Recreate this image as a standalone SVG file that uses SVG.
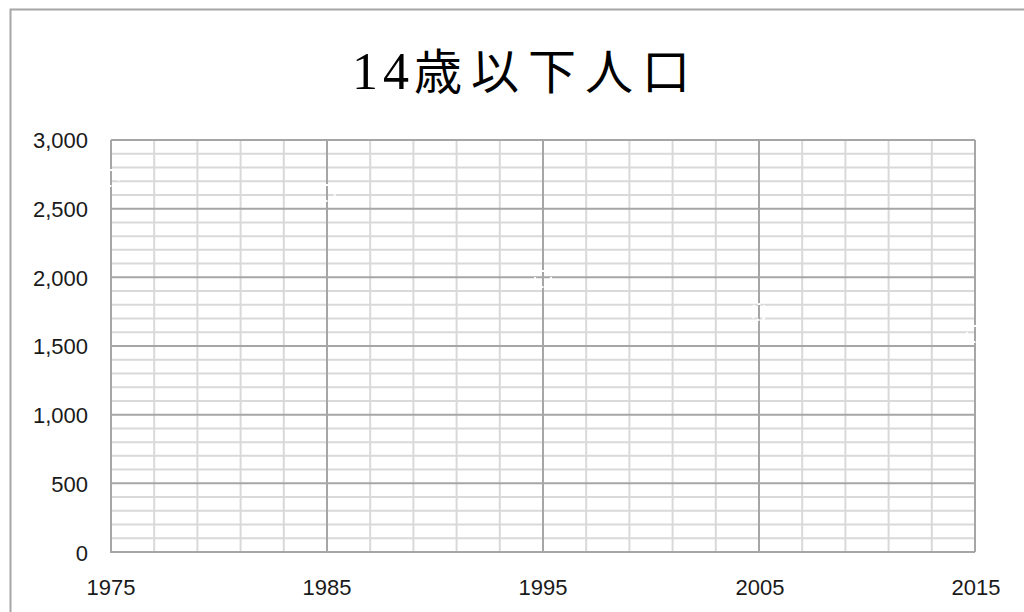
<svg xmlns="http://www.w3.org/2000/svg" width="1024" height="612" viewBox="0 0 1024 612">
<style>
.minor{stroke:#d9d9d9;stroke-width:2;fill:none}
.major{stroke:#a6a6a6;stroke-width:2;fill:none}
.lbl{font-family:"Liberation Sans","Noto Sans",sans-serif;font-size:22px;fill:#1a1a1a}
.mk{fill:none;stroke:#ffffff;stroke-width:2;stroke-dasharray:3 3}
</style>
<rect width="1024" height="612" fill="#ffffff"/>
<path d="M10.5 612 V9.5 H1024" fill="none" stroke="#a6a6a6" stroke-width="2"/>
<text id="title" x="352" y="89" font-family="'Liberation Serif','Noto Sans CJK JP',serif" font-size="52" fill="#000"><tspan letter-spacing="5">14</tspan><tspan font-size="48" letter-spacing="9">歳以下人口</tspan></text>
<g id="grid">
<g class="minor">
<path d="M111 538.27H975M111 524.53H975M111 510.8H975M111 497.07H975M111 469.6H975M111 455.87H975M111 442.13H975M111 428.4H975M111 400.93H975M111 387.2H975M111 373.47H975M111 359.73H975M111 332.27H975M111 318.53H975M111 304.8H975M111 291.07H975M111 263.6H975M111 249.87H975M111 236.13H975M111 222.4H975M111 194.93H975M111 181.2H975M111 167.47H975M111 153.73H975"/>
<path d="M154.2 140V552M197.4 140V552M240.6 140V552M283.8 140V552M370.2 140V552M413.4 140V552M456.6 140V552M499.8 140V552M586.2 140V552M629.4 140V552M672.6 140V552M715.8 140V552M802.2 140V552M845.4 140V552M888.6 140V552M931.8 140V552"/>
</g>
<g class="major">
<path d="M111 483.33H975M111 414.67H975M111 346H975M111 277.33H975M111 208.67H975M111 140H975"/>
<path d="M327 140V552M543 140V552M759 140V552M975 140V552"/>
<path d="M111 140V552H975"/>
</g>
</g>
<g id="markers">
<circle class="mk" cx="111" cy="178" r="8"/>
<circle class="mk" cx="327" cy="193" r="8"/>
<circle class="mk" cx="543" cy="279" r="8"/>
<circle class="mk" cx="759" cy="312" r="8"/>
<circle class="mk" cx="975" cy="334" r="8"/>
</g>
<g id="yaxis" class="lbl" text-anchor="end">
<text x="88" y="148">3,000</text>
<text x="88" y="217">2,500</text>
<text x="88" y="286">2,000</text>
<text x="88" y="354">1,500</text>
<text x="88" y="423">1,000</text>
<text x="88" y="492">500</text>
<text x="88" y="561">0</text>
</g>
<g id="xaxis" class="lbl" text-anchor="middle">
<text x="111" y="595">1975</text>
<text x="327" y="595">1985</text>
<text x="543" y="595">1995</text>
<text x="760" y="595">2005</text>
<text x="976" y="595">2015</text>
</g>
</svg>
